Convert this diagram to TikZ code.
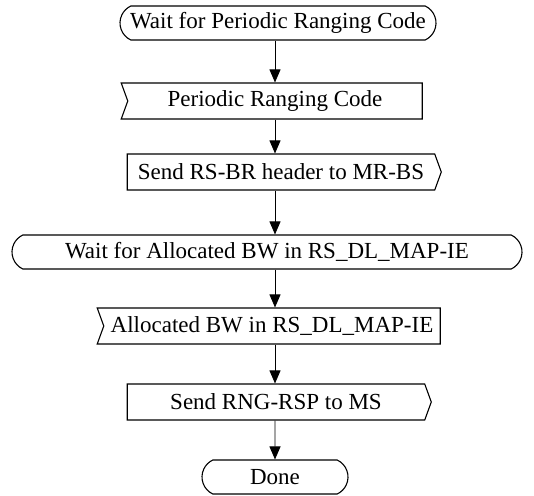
\documentclass[tikz,border=0pt]{standalone}
\usepackage{fontspec}
\setmainfont{Liberation Serif}
\usetikzlibrary{shapes.symbols, shapes.misc, arrows.meta}

\begin{document}
\begin{tikzpicture}[x=1pt, y=1pt,
        font=\fontsize{23}{27}\selectfont,
        waitstate/.style={draw, rounded rectangle, rounded rectangle arc length=130, minimum height=34pt, line width=1.1pt, inner sep=2pt},
        insignal/.style={draw, signal, signal from=west, signal to=nowhere, signal pointer angle=140, minimum height=36pt, line width=1.1pt, inner sep=2pt},
        outsignal/.style={draw, signal, signal to=east, signal from=nowhere, signal pointer angle=140, minimum height=36pt, line width=1.1pt, inner sep=2pt},
        flow/.style={-{Triangle[width=11pt, length=13pt]}, line width=0.9pt}]
    \useasboundingbox (0,0) rectangle (534,-495);

    \node[waitstate, minimum width=320pt] (waitcode) at (278,-23) {Wait for Periodic Ranging Code};
    \node[insignal, minimum width=301pt] (rngcode) at (275,-101) {Periodic Ranging Code};
    \node[outsignal, minimum width=314pt] (sendbr) at (281,-172) {Send RS-BR header to MR-BS};
    \node[waitstate, minimum width=514pt] (waitbw) at (267,-252) {Wait for Allocated BW in RS\_DL\_MAP-IE};
    \node[insignal, minimum width=343pt] (allocbw) at (272,-326) {Allocated BW in RS\_DL\_MAP-IE};
    \node[outsignal, minimum width=304pt] (sendrsp) at (276,-402) {Send RNG-RSP to MS};
    \node[waitstate, minimum width=150pt] (done) at (275,-477) {Done};

    \draw[flow] (waitcode.south -| done) -- (rngcode.north -| done);
    \draw[flow] (rngcode.south -| done) -- (sendbr.north -| done);
    \draw[flow] (sendbr.south -| done) -- (waitbw.north -| done);
    \draw[flow] (waitbw.south -| done) -- (allocbw.north -| done);
    \draw[flow] (allocbw.south -| done) -- (sendrsp.north -| done);
    \draw[flow] (sendrsp.south -| done) -- (done);
\end{tikzpicture}
\end{document}
